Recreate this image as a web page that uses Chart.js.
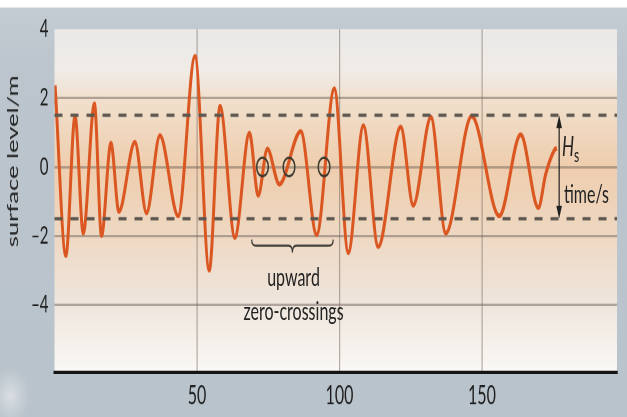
<!DOCTYPE html>
<html><head><meta charset="utf-8">
<script src="https://cdn.jsdelivr.net/npm/chart.js@4/dist/chart.umd.min.js"></script>
<style>
html,body{margin:0;padding:0;width:627px;height:417px;overflow:hidden;}
body{background:radial-gradient(ellipse 18px 26px at 10px 396px, rgba(222,226,230,0.85) 0, rgba(222,226,230,0.4) 10px, rgba(188,197,205,0) 20px),linear-gradient(to bottom,#ffffff 0,#ffffff 7px,#c4ccd3 8px,#bcc5cd 60px,#b9c3cb 100%);}
#stage{position:absolute;left:0;top:0;width:627px;height:261px;transform:scaleY(1.5977);transform-origin:0 0;}
#wrap{position:absolute;left:0;top:0;width:627px;height:261px;}
.lbl{position:absolute;font-family:Lato,"Open Sans",sans-serif;color:#222;white-space:nowrap;line-height:1;transform:translate(-50%,-50%);}
</style></head>
<body>
<div id="stage">
  <div id="wrap"><canvas id="c"></canvas></div>
  <div class="lbl" style="left:12px;top:100.8px;font-size:16px;transform:translate(-50%,-50%) rotate(-90deg);">surface level/m</div>
  <div class="lbl" style="left:293.5px;top:172.7px;font-size:16px;">upward</div>
  <div class="lbl" style="left:293.5px;top:194px;font-size:16px;">zero-crossings</div>
  <div class="lbl" style="left:562px;top:91px;font-size:17px;transform:translate(0,-50%);"><i>H</i><span style="font-size:12px;position:relative;top:4px;">s</span></div>
  <div class="lbl" style="left:564px;top:120.5px;font-size:16px;transform:translate(0,-50%);">time/s</div>
</div>
<script>
// ---- data ----
const waveX = [0.2, 4.0, 7.2, 10.1, 14.0, 16.5, 19.8, 22.6, 28.2, 32.3, 37.0, 43.4, 49.3, 54.3, 58.1, 63.3, 68.4, 71.5, 74.7, 78.9, 86.4, 92.0, 98.2, 103.1, 108.4, 113.6, 121.5, 125.9, 132.1, 137.3, 146.4, 156.1, 163.6, 169.8, 172.4, 175.5, 176.3];
const waveY = [2.37, -2.57, 1.47, -1.92, 1.83, -1.99, 0.69, -1.29, 0.72, -1.33, 0.91, -1.42, 3.21, -2.99, 1.76, -2.04, 0.98, -0.82, 0.52, -0.50, 1.03, -1.96, 2.27, -2.48, 1.20, -2.31, 1.16, -1.11, 1.44, -1.92, 1.47, -1.42, 0.94, -1.18, -0.20, 0.50, 0.54];
const hsLevels = [1.5, -1.5];
const crossingX = [73.0, 82.3, 94.6];
const crossingY = [0, 0, 0];
const xTicks = [50, 100, 150];
const yTicks = [4, 2, 0, -2, -4];
const xRange = [0, 197.4];
const yRange = [-5.95, 4];
const braceX = [69.2, 97.8];
const braceY = [-2.10, -2.28, -2.48];
const hsArrowX = 177.1;

const gridCol = 'rgba(112,98,90,0.5)';

const annot = {
  id: 'annot',
  beforeDraw(chart) {
    const {ctx, chartArea: a} = chart;
    const g = ctx.createLinearGradient(0, a.top, 0, a.bottom);
    g.addColorStop(0.0, '#eae9e7');
    g.addColorStop(0.12, '#f0ece7');
    g.addColorStop(0.2, '#f1e0ce');
    g.addColorStop(0.4, '#efceae');
    g.addColorStop(0.6, '#eed8c3');
    g.addColorStop(0.8, '#efe6dd');
    g.addColorStop(1.0, '#faf8f5');
    ctx.save();
    ctx.fillStyle = g;
    ctx.fillRect(a.left, a.top, a.right - a.left, a.bottom - a.top);
    ctx.restore();
  },
  afterDatasetsDraw(chart) {
    const {ctx, scales: {x, y}} = chart;
    ctx.save();
    const x0 = x.getPixelForValue(braceX[0]), x1 = x.getPixelForValue(braceX[1]), xm = (x0 + x1) / 2;
    const yt = y.getPixelForValue(braceY[0]), yh = y.getPixelForValue(braceY[1]), yb = y.getPixelForValue(braceY[2]);
    const r = 4;
    ctx.strokeStyle = '#3b3a33';
    ctx.lineWidth = 1.2;
    ctx.beginPath();
    ctx.moveTo(x0, yt);
    ctx.quadraticCurveTo(x0, yh, x0 + r, yh);
    ctx.lineTo(xm - r, yh);
    ctx.quadraticCurveTo(xm, yh, xm, yb);
    ctx.quadraticCurveTo(xm, yh, xm + r, yh);
    ctx.lineTo(x1 - r, yh);
    ctx.quadraticCurveTo(x1, yh, x1, yt);
    ctx.stroke();
    const ax = x.getPixelForValue(hsArrowX);
    const ya = y.getPixelForValue(hsLevels[0]), yz = y.getPixelForValue(hsLevels[1]);
    ctx.strokeStyle = '#1f1f1f';
    ctx.fillStyle = '#1f1f1f';
    ctx.lineWidth = 1.2;
    ctx.beginPath(); ctx.moveTo(ax, ya + 4); ctx.lineTo(ax, yz - 4); ctx.stroke();
    ctx.beginPath(); ctx.moveTo(ax, ya); ctx.lineTo(ax - 2.8, ya + 8); ctx.lineTo(ax + 2.8, ya + 8); ctx.closePath(); ctx.fill();
    ctx.beginPath(); ctx.moveTo(ax, yz); ctx.lineTo(ax - 2.8, yz - 8); ctx.lineTo(ax + 2.8, yz - 8); ctx.closePath(); ctx.fill();
    ctx.restore();
  }
};

const wavePts = waveX.map((v, i) => ({x: v, y: waveY[i]}));
const dashSets = hsLevels.map(l => ({
  type: 'line',
  data: [{x: xRange[0], y: l}, {x: xRange[1], y: l}],
  borderColor: '#5c5650', borderWidth: 2, borderDash: [8, 8],
  pointRadius: 0, order: 1
}));

new Chart(document.getElementById('c'), {
  type: 'line',
  data: {
    datasets: [
      {
        type: 'line',
        data: crossingX.map((v, i) => ({x: v, y: crossingY[i]})),
        showLine: false,
        pointStyle: 'circle', pointRadius: 5.8, pointBorderWidth: 1.4,
        pointBorderColor: '#3a3a30', pointBackgroundColor: 'rgba(0,0,0,0)',
        order: 0
      },
      ...dashSets,
      {
        type: 'line',
        data: wavePts,
        borderColor: '#db5722', borderWidth: 3,
        cubicInterpolationMode: 'monotone',
        pointRadius: 0, fill: false, order: 2
      }
    ]
  },
  options: {
    responsive: true,
    maintainAspectRatio: false,
    devicePixelRatio: 2,
    animation: false,
    events: [],
    layout: {padding: {top: 18.15, right: 10, left: 0, bottom: 0}},
    plugins: {legend: {display: false}, tooltip: {enabled: false}},
    scales: {
      x: {
        type: 'linear', min: xRange[0], max: xRange[1],
        afterBuildTicks: s => { s.ticks = xTicks.map(v => ({value: v})); },
        afterFit: s => { s.height = 28; },
        grid: {color: gridCol, lineWidth: 1.2, drawTicks: false},
        border: {display: true, color: '#151515', width: 2},
        ticks: {font: {family: 'Lato', size: 16}, color: '#1e1e1e', padding: 5, maxRotation: 0, autoSkip: false}
      },
      y: {
        type: 'linear', min: yRange[0], max: yRange[1],
        afterBuildTicks: s => { s.ticks = yTicks.map(v => ({value: v})); },
        afterFit: s => { s.width = 54.5; },
        grid: {color: c => (c.tick && c.tick.value === 4) ? 'rgba(0,0,0,0)' : gridCol, lineWidth: 1.5, drawTicks: false},
        border: {display: false},
        ticks: {
          font: {family: 'Lato', size: 15}, color: '#1e1e1e', padding: 6, autoSkip: false,
          callback: v => v < 0 ? '\u2013' + Math.abs(v) : String(v)
        }
      }
    }
  },
  plugins: [annot]
});
</script>
</body></html>
